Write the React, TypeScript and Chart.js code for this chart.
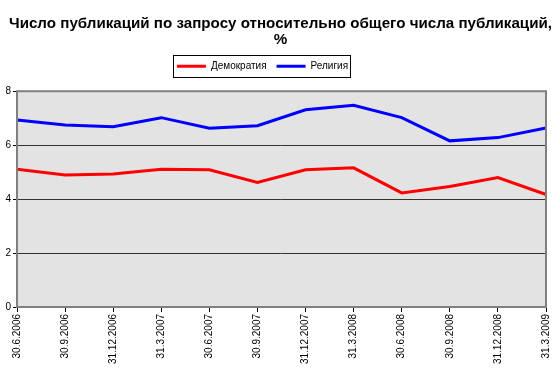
import React, { useEffect, useRef } from "react";
import { Chart, registerables } from "chart.js";

Chart.register(...registerables);

const categories = [
  "30.6.2006", "30.9.2006", "31.12.2006", "31.3.2007", "30.6.2007", "30.9.2007",
  "31.12.2007", "31.3.2008", "30.6.2008", "30.9.2008", "31.12.2008", "31.3.2009",
];
const democracy = [5.11, 4.89, 4.93, 5.11, 5.09, 4.62, 5.09, 5.16, 4.23, 4.47, 4.8, 4.17];
const religion = [6.93, 6.75, 6.68, 7.02, 6.63, 6.72, 7.31, 7.48, 7.02, 6.16, 6.28, 6.64];
const yTicks = [0, 2, 4, 6, 8];
const titleLines = ["Число публикаций по запросу относительно общего числа публикаций,", "%"];

const FONT = "Arial, 'Liberation Sans', sans-serif";
const LEGEND_SHIFT = -13;
const TITLE_SHIFT = 5;
const LEGEND_EXTRA = 10;

const decorPlugin = {
  id: "decor",
  afterLayout(chart: any) {
    const lg = chart.legend;
    if (lg) {
      lg.left += LEGEND_SHIFT;
      lg.right += LEGEND_SHIFT;
    }
    const tt = chart.titleBlock;
    if (tt) {
      tt.left += TITLE_SHIFT;
      tt.right += TITLE_SHIFT;
    }
  },
  beforeDraw(chart: any) {
    const { ctx, chartArea } = chart;
    ctx.save();
    ctx.fillStyle = "#e3e3e3";
    ctx.fillRect(chartArea.left, chartArea.top, chartArea.right - chartArea.left, chartArea.bottom - chartArea.top);
    ctx.restore();
  },
  afterDatasetsDraw(chart: any) {
    const { ctx, chartArea } = chart;
    ctx.save();
    ctx.strokeStyle = "#808080";
    ctx.lineWidth = 2;
    ctx.strokeRect(chartArea.left, chartArea.top, chartArea.right - chartArea.left, chartArea.bottom - chartArea.top);
    ctx.restore();
  },
  afterDraw(chart: any) {
    const lg = chart.legend;
    if (!lg || !lg.legendHitBoxes || !lg.legendHitBoxes.length) return;
    const boxes = lg.legendHitBoxes;
    let l = Infinity, r = -Infinity, t = Infinity, b = -Infinity;
    for (const h of boxes) {
      l = Math.min(l, h.left);
      r = Math.max(r, h.left + h.width);
      t = Math.min(t, h.top);
      b = Math.max(b, h.top + h.height);
    }
    const { ctx } = chart;
    ctx.save();
    ctx.strokeStyle = "#000";
    ctx.lineWidth = 1;
    ctx.strokeRect(Math.round(l - 4) + 0.5, Math.round(t - 6) + 0.5, Math.round(r - l + 6), Math.round(b - t + 12));
    ctx.restore();
  },
};

export default function App() {
  const ref = useRef<HTMLCanvasElement | null>(null);
  useEffect(() => {
    document.body.style.margin = "0";
    const canvas = ref.current!;
    const chart = new Chart(canvas, {
      type: "line",
      data: {
        labels: categories,
        datasets: [
          {
            label: "Демократия",
            data: democracy,
            borderColor: "#ff0000",
            backgroundColor: "#ff0000",
            borderWidth: 3,
            pointRadius: 0,
            tension: 0,
          },
          {
            label: "Религия",
            data: religion,
            borderColor: "#0000ff",
            backgroundColor: "#0000ff",
            borderWidth: 3,
            pointRadius: 0,
            tension: 0,
          },
        ],
      },
      options: {
        animation: false,
        responsive: false,
        layout: { padding: { left: 4, right: 13, top: 6, bottom: 0 } },
        plugins: {
          title: {
            display: true,
            text: titleLines,
            color: "#000",
            font: { family: FONT, size: 15.2, weight: "bold", lineHeight: 1.06 },
            padding: { top: 10, bottom: 3 },
          },
          legend: {
            display: true,
            position: "top",
            labels: {
              color: "#000",
              font: { family: FONT, size: 10 },
              boxWidth: 29,
              boxHeight: 3,
              padding: 10,
              generateLabels(chart: any) {
                return chart.data.datasets.map((ds: any, i: number) => ({
                  text: ds.label,
                  fillStyle: ds.borderColor,
                  strokeStyle: ds.borderColor,
                  lineWidth: 0,
                  hidden: false,
                  datasetIndex: i,
                  fontColor: "#000",
                }));
              },
            },
          },
          tooltip: { enabled: false },
        },
        scales: {
          x: {
            offset: false,
            grid: { display: true, drawOnChartArea: false, drawTicks: true, tickLength: 5, color: "#000" },
            border: { display: false },
            ticks: {
              color: "#000",
              font: { family: FONT, size: 10 },
              maxRotation: 90,
              minRotation: 90,
              autoSkip: false,
              padding: 2,
            },
            afterFit(scale: any) {
              scale.height = 64;
            },
          },
          y: {
            min: 0,
            max: 8,
            afterBuildTicks(scale: any) {
              scale.ticks = yTicks.map((v) => ({ value: v }));
            },
            grid: { color: "#333", lineWidth: 1, drawTicks: true, tickLength: 4, tickColor: "#000" },
            border: { display: false },
            ticks: {
              color: "#000",
              font: { family: FONT, size: 10 },
              padding: 2,
            },
            afterFit(scale: any) {
              scale.width = 13;
            },
          },
        },
      },
      plugins: [decorPlugin],
    } as any);
    const lg: any = (chart as any).legend;
    if (lg) {
      const origFit = lg.fit.bind(lg);
      lg.fit = function () {
        origFit();
        this.height += LEGEND_EXTRA;
      };
      chart.update();
    }
    return () => chart.destroy();
  }, []);
  return <canvas ref={ref} width={560} height={371} style={{ display: "block" }} />;
}
